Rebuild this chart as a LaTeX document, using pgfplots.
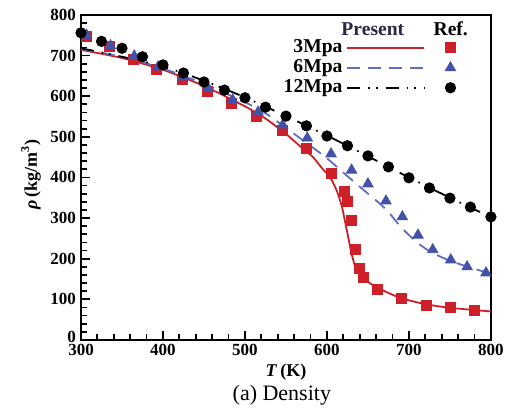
\documentclass[border=0pt]{standalone}
\usepackage{fontspec}
\setmainfont{Liberation Serif}
\usepackage{pgfplots}
\pgfplotsset{compat=1.18}
\definecolor{redc}{RGB}{205,32,40}
\definecolor{bluem}{RGB}{66,82,168}
\definecolor{bluel}{RGB}{95,110,195}
\definecolor{navy}{RGB}{40,40,70}
\pgfplotsset{
  lineleg/.style={legend image code/.code={\draw[##1] (0pt,0pt) -- (38.5pt,0pt);}},
  markleg/.style={legend image code/.code={\draw[mark repeat=2,mark phase=2,##1] plot coordinates {(0pt,0pt) (6pt,0pt) (12pt,0pt)};}},
}
\begin{document}
\begin{tikzpicture}
\begin{axis}[
  scale only axis, width=205pt, height=162.5pt,
  xmin=300, xmax=800, ymin=0, ymax=800,
  xtick={300,400,...,800}, ytick={0,100,...,800},
  yticklabels={\raisebox{3.5pt}{0},100,200,300,400,500,600,700,800},
  minor x tick num=4, minor y tick num=4,
  tick align=inside, tick pos=left,
  major tick length=4.5pt, minor tick length=3pt,
  every tick/.style={black, line width=0.9pt},
  axis line style={line width=0.9pt},
  clip=false,
  /pgf/number format/assume math mode=true,
  ticklabel style={font=\bfseries\fontsize{8.5}{9}\selectfont},
  xticklabel style={yshift=1.2pt},
  yticklabel style={xshift=1pt},
  xlabel={\textbf{\textit{T}\,(K)}},
  ylabel={\textbf{\textit{ρ}\,(kg/m\textsuperscript{3})}},
  label style={font=\fontsize{9}{10}\selectfont},
  xlabel style={at={(axis description cs:0.5,-0.0985)}, anchor=center},
  ylabel style={at={(axis description cs:-0.122,0.508)}, anchor=center},
  legend columns=2,
  legend plot pos=right,
  legend cell align=right,
  legend style={draw=none, fill=none, inner sep=0pt,
    at={(axis description cs:0.915,0.937)}, anchor=north east,
    font=\bfseries\fontsize{9.8}{10.5}\selectfont,
    row sep=-2pt,
    /tikz/every odd column/.style={column sep=0pt},
    /tikz/every even column/.style={column sep=6pt}},
]
% 3 MPa
\addplot[redc, line width=0.9pt, smooth, tension=0.4, lineleg]
  coordinates {(300,714) (350,694) (400,665) (450,625) (500,575) (525,545)
  (550,507) (570,472) (583,450) (595,420) (604,400) (612,367) (618,330)
  (622,292) (626,252) (630,213) (634,183) (638,166) (645,151) (652,140)
  (665,125) (690,103) (720,88) (750,79) (800,70)};
\addlegendentry{3Mpa}
\addplot[only marks, mark=square*, mark size=2.5pt, color=redc, markleg]
  coordinates {(307,748) (335,722) (364,691) (392,666) (424,642) (454,611)
  (484,583) (514,550) (546,517) (575,472) (606,411) (621,365) (625,340)
  (630,295) (635,222) (639,177) (645,155) (661,125) (691,101) (721,86)
  (751,79) (780,72)};
\addlegendentry{}
% 6 MPa
\addplot[bluel, line width=0.9pt, dash pattern=on 6.5pt off 4pt, smooth, tension=0.5, lineleg]
  coordinates {(300,716) (350,697) (400,668) (450,630) (500,585) (525,558)
  (550,522) (575,485) (600,447) (625,403) (650,360) (662,340) (675,315)
  (688,283) (700,258) (715,232) (730,213) (750,195) (775,178) (800,163)};
\addlegendentry{6Mpa}
\addplot[only marks, mark=triangle*, mark size=3pt, color=bluem, markleg]
  coordinates {(307,750) (336,724) (365,699) (394,672) (424,647) (455,620)
  (485,591) (516,561) (546,529) (576,497) (605,458) (630,418) (650,384)
  (672,342) (692,303) (711,258) (729,222) (751,197) (771,180) (794,165)};
\addlegendentry{}
% 12 MPa
\addplot[black, line width=0.9pt,
  dash pattern=on 6.5pt off 4pt on 0.8pt off 3pt on 0.8pt off 4pt, smooth, lineleg]
  coordinates {(300,718) (350,697) (400,673) (450,638) (500,597) (550,551)
  (600,503) (650,452) (700,400) (750,350) (800,302)};
\addlegendentry{12Mpa}
\addplot[only marks, mark=*, mark size=2.6pt, color=black, markleg]
  coordinates {(300,756) (325,735) (350,718) (375,697) (400,677) (425,657)
  (450,635) (475,615) (500,596) (525,573) (550,551) (575,527) (600,502)
  (625,478) (650,453) (675,426) (700,399) (725,374) (750,349) (775,327)
  (800,303)};
\addlegendentry{}
\node[font=\bfseries\fontsize{9.8}{10.5}\selectfont, text=navy] at (axis cs:656,765) {Present};
\node[font=\bfseries\fontsize{9.8}{10.5}\selectfont] at (axis cs:751,765) {Ref.};
\node[font=\fontsize{11}{12}\selectfont] at (axis description cs:0.49,-0.169) {(a) Density};
\path (rel axis cs:-0.1976,-0.203) rectangle (rel axis cs:1.049,1.046);
\end{axis}
\end{tikzpicture}
\end{document}
